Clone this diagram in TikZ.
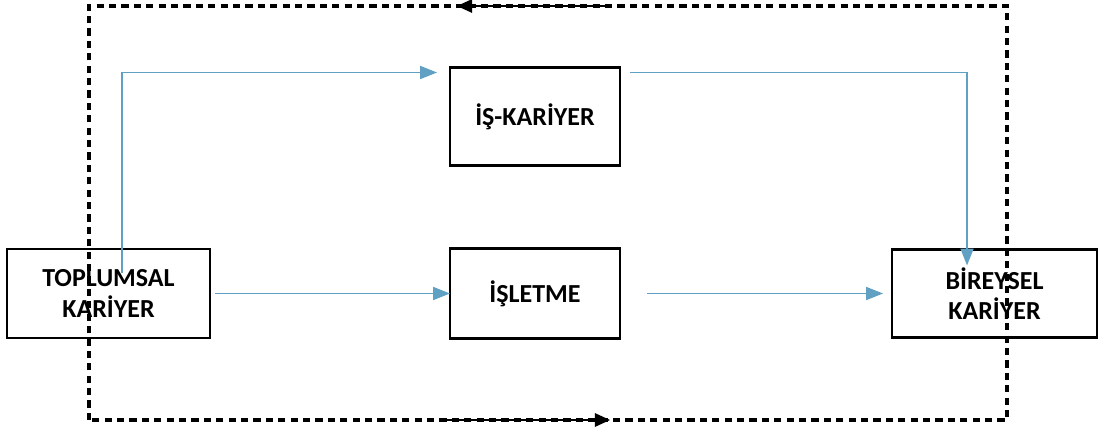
\documentclass[tikz,border=0pt]{standalone}
\usepackage{fontspec}
\setmainfont{Carlito}
\usepackage{xcolor}
\usepackage{tikz}
\usetikzlibrary{arrows.meta, positioning, calc}
\definecolor{flowblue}{RGB}{95,160,195}
\tikzset{
    career/.style={
        rectangle,
        draw=black,
        line width=2pt,
        outer sep=0pt,
        minimum width=4.25cm,
        minimum height=2.25cm,
        align=center,
        font=\fontsize{18.5}{21.5}\selectfont\bfseries
    },
    flow/.style={
        draw=flowblue,
        line width=1.4pt,
        -{Triangle[length=0.42cm,width=0.32cm]}
    },
    frame/.style={
        draw=black,
        line width=2.2pt,
        dash pattern=on 0.18cm off 0.13cm
    },
    cycle/.style={
        draw=black,
        line width=1pt,
        -{Triangle[length=0.38cm,width=0.34cm]}
    }
}
\begin{document}
\begin{tikzpicture}
\useasboundingbox (0,0) rectangle (27.65,10.9);

% Career boxes
\node[career, minimum width=5.075cm, minimum height=2.225cm] (toplumsal) at (2.7125,3.5625) {TOPLUMSAL\\KARİYER};
\node[career, right=6cm of toplumsal] (isletme) {İŞLETME};
\node[career, minimum height=2.45cm, above=2.075cm of isletme] (iskariyer) {İŞ-KARİYER};
\node[career, minimum width=5.125cm, minimum height=2.2cm, right=6.8cm of isletme] (bireysel) {BİREYSEL\\KARİYER};

% Blue flows
\draw[flow] ($(toplumsal.north west)+(2.875,-0.6)$) |- ([xshift=-0.325cm, yshift=-0.125cm]iskariyer.north west);
\draw[flow] ([xshift=0.25cm, yshift=-0.125cm]iskariyer.north east) -| ([xshift=1.875cm, yshift=-0.4cm]bireysel.north west);
\draw[flow] ([xshift=0.125cm]toplumsal.east) -- (isletme.west);
\draw[flow] ([xshift=0.675cm]isletme.east) -- ([xshift=-0.225cm]bireysel.west);

% Dashed feedback frame
\coordinate (frameSW) at (2.225,0.4);
\coordinate (frameNE) at (25.175,10.75);
\draw[frame] (frameSW) rectangle (frameNE);

\coordinate (topstart) at (15.175,10.75);
\coordinate (topend) at (11.425,10.75);
\coordinate (botstart) at (11.175,0.4);
\coordinate (botend) at (15.25,0.4);
\draw[cycle] (topstart) -- (topend);
\draw[cycle] (botstart) -- (botend);

\end{tikzpicture}
\end{document}
